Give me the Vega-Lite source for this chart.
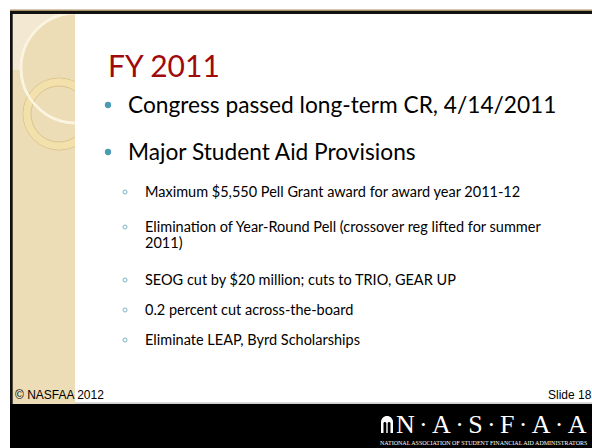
{
  "$schema": "https://vega.github.io/schema/vega-lite/v6.json",
  "width": 592,
  "height": 448,
  "autosize": {"type": "none"},
  "padding": 0,
  "background": "white",
  "config": {"view": {"stroke": null}},
  "datasets": {
    "back": [
      {"part": "panel", "x1": 10, "x2": 75, "y1": 12, "y2": 404},
      {"part": "hatch", "x1": 12, "x2": 75, "y1": 12, "y2": 70}
    ],
    "front": [
      {"part": "cover", "x1": 75, "x2": 592, "y1": 14, "y2": 403},
      {"part": "sep", "x1": 75, "x2": 592, "y1": 402.5, "y2": 403.8},
      {"part": "band", "x1": 10, "x2": 592, "y1": 404, "y2": 448},
      {"part": "tan", "x1": 10, "x2": 592, "y1": 9.5, "y2": 11},
      {"part": "border", "x1": 10, "x2": 592, "y1": 11, "y2": 14},
      {"part": "border", "x1": 10, "x2": 12.7, "y1": 11, "y2": 404}
    ],
    "bigcircle": [{"x": 76, "y": 68}],
    "ring": [{"x": 59, "y": 114}],
    "title": [{"text": "FY 2011", "x": 108, "y": 77}],
    "dots": [{"x": 108, "y": 105}, {"x": 108, "y": 152}],
    "bullets": [
      {"text": "Congress passed long-term CR, 4/14/2011", "x": 128, "y": 113},
      {"text": "Major Student Aid Provisions", "x": 128, "y": 160}
    ],
    "rings": [
      {"x": 125, "y": 192}, {"x": 125, "y": 227}, {"x": 125, "y": 280},
      {"x": 125, "y": 310}, {"x": 125, "y": 340}
    ],
    "subs": [
      {"text": "Maximum $5,550 Pell Grant award for award year 2011-12", "x": 145, "y": 197},
      {"text": "Elimination of Year-Round Pell (crossover reg lifted for summer\n2011)", "x": 145, "y": 232},
      {"text": "SEOG cut by $20 million; cuts to TRIO, GEAR UP", "x": 145, "y": 285},
      {"text": "0.2 percent cut across-the-board", "x": 145, "y": 315},
      {"text": "Eliminate LEAP, Byrd Scholarships", "x": 145, "y": 345}
    ],
    "footer": [
      {"text": "© NASFAA 2012", "x": 15, "y": 399},
      {"text": "Slide 18", "x": 548, "y": 399}
    ],
    "icon": [{"x1": 381, "x2": 393, "y1": 416, "y2": 433}],
    "figures": [
      {"x1": 383.5, "x2": 386.3, "y1": 422, "y2": 433},
      {"x1": 387.7, "x2": 390.5, "y1": 422, "y2": 433}
    ],
    "logo": [{"text": "N\u2006·\u2006A\u2006·\u2006S\u2006·\u2006F\u2006·\u2006A\u2006·\u2006A", "x": 396, "y": 433}],
    "tagline": [{"text": "NATIONAL ASSOCIATION OF STUDENT FINANCIAL AID ADMINISTRATORS", "x": 380, "y": 445}]
  },
  "layer": [
    {
      "data": {"name": "back"},
      "mark": {"type": "rect"},
      "encoding": {
        "x": {"field": "x1", "type": "quantitative", "scale": {"domain": [0, 592], "nice": false, "zero": false}, "axis": null},
        "x2": {"field": "x2"},
        "y": {"field": "y1", "type": "quantitative", "scale": {"domain": [0, 448], "nice": false, "zero": false, "reverse": true}, "axis": null},
        "y2": {"field": "y2"},
        "color": {"field": "part", "type": "nominal", "legend": null,
          "scale": {"domain": ["panel", "hatch", "cover", "sep", "band", "tan", "border"],
                    "range": ["#EDDDB7", "#F3E9D3", "#FFFFFF", "#BDBDBD", "#000000", "#A89366", "#111111"]}}
      }
    },
    {
      "data": {"name": "bigcircle"},
      "mark": {"type": "point", "shape": "circle", "filled": true, "fill": "#EDDDB7", "stroke": "#FBF4E0", "strokeWidth": 2.5, "size": 12100, "opacity": 1},
      "encoding": {
        "x": {"field": "x", "type": "quantitative"},
        "y": {"field": "y", "type": "quantitative"}
      }
    },
    {
      "data": {"name": "ring"},
      "mark": {"type": "point", "shape": "circle", "filled": false, "stroke": "#DCC48E", "strokeWidth": 1, "size": 5184, "opacity": 1},
      "encoding": {
        "x": {"field": "x", "type": "quantitative"},
        "y": {"field": "y", "type": "quantitative"}
      }
    },
    {
      "data": {"name": "ring"},
      "mark": {"type": "point", "shape": "circle", "filled": false, "stroke": "#F3E1AC", "strokeWidth": 7, "size": 4096, "opacity": 1},
      "encoding": {
        "x": {"field": "x", "type": "quantitative"},
        "y": {"field": "y", "type": "quantitative"}
      }
    },
    {
      "data": {"name": "ring"},
      "mark": {"type": "point", "shape": "circle", "filled": false, "stroke": "#DCC48E", "strokeWidth": 1, "size": 3136, "opacity": 1},
      "encoding": {
        "x": {"field": "x", "type": "quantitative"},
        "y": {"field": "y", "type": "quantitative"}
      }
    },
    {
      "data": {"name": "bigcircle"},
      "mark": {"type": "point", "shape": "circle", "filled": false, "stroke": "#FBF4E0", "strokeWidth": 2.5, "size": 12100, "opacity": 1},
      "encoding": {
        "x": {"field": "x", "type": "quantitative"},
        "y": {"field": "y", "type": "quantitative"}
      }
    },
    {
      "data": {"name": "front"},
      "mark": {"type": "rect"},
      "encoding": {
        "x": {"field": "x1", "type": "quantitative"},
        "x2": {"field": "x2"},
        "y": {"field": "y1", "type": "quantitative"},
        "y2": {"field": "y2"},
        "color": {"field": "part", "type": "nominal", "legend": null,
          "scale": {"domain": ["panel", "hatch", "cover", "sep", "band", "tan", "border"],
                    "range": ["#EDDDB7", "#F3E9D3", "#FFFFFF", "#BDBDBD", "#000000", "#A89366", "#111111"]}}
      }
    },
    {
      "data": {"name": "title"},
      "mark": {"type": "text", "align": "left", "baseline": "alphabetic", "font": "Lato", "fontSize": 30, "color": "#A00A0A"},
      "encoding": {
        "x": {"field": "x", "type": "quantitative"},
        "y": {"field": "y", "type": "quantitative"},
        "text": {"field": "text"}
      }
    },
    {
      "data": {"name": "dots"},
      "mark": {"type": "point", "shape": "circle", "filled": true, "color": "#4A9BB3", "size": 40, "opacity": 1},
      "encoding": {
        "x": {"field": "x", "type": "quantitative"},
        "y": {"field": "y", "type": "quantitative"}
      }
    },
    {
      "data": {"name": "bullets"},
      "mark": {"type": "text", "align": "left", "baseline": "alphabetic", "font": "Lato", "fontSize": 22.7, "color": "#000000"},
      "encoding": {
        "x": {"field": "x", "type": "quantitative"},
        "y": {"field": "y", "type": "quantitative"},
        "text": {"field": "text"}
      }
    },
    {
      "data": {"name": "rings"},
      "mark": {"type": "point", "shape": "circle", "filled": false, "stroke": "#7DB3C7", "strokeWidth": 1, "size": 16, "opacity": 1},
      "encoding": {
        "x": {"field": "x", "type": "quantitative"},
        "y": {"field": "y", "type": "quantitative"}
      }
    },
    {
      "data": {"name": "subs"},
      "mark": {"type": "text", "align": "left", "baseline": "alphabetic", "font": "Lato", "fontSize": 14.5, "lineBreak": "\n", "lineHeight": 16, "color": "#000000"},
      "encoding": {
        "x": {"field": "x", "type": "quantitative"},
        "y": {"field": "y", "type": "quantitative"},
        "text": {"field": "text"}
      }
    },
    {
      "data": {"name": "footer"},
      "mark": {"type": "text", "align": "left", "baseline": "alphabetic", "font": "Liberation Sans", "fontSize": 12, "color": "#000000"},
      "encoding": {
        "x": {"field": "x", "type": "quantitative"},
        "y": {"field": "y", "type": "quantitative"},
        "text": {"field": "text"}
      }
    },
    {
      "data": {"name": "icon"},
      "mark": {"type": "rect", "color": "#FFFFFF", "cornerRadiusTopLeft": 6, "cornerRadiusTopRight": 6},
      "encoding": {
        "x": {"field": "x1", "type": "quantitative"},
        "x2": {"field": "x2"},
        "y": {"field": "y1", "type": "quantitative"},
        "y2": {"field": "y2"}
      }
    },
    {
      "data": {"name": "figures"},
      "mark": {"type": "rect", "color": "#000000", "cornerRadiusTopLeft": 1.4, "cornerRadiusTopRight": 1.4},
      "encoding": {
        "x": {"field": "x1", "type": "quantitative"},
        "x2": {"field": "x2"},
        "y": {"field": "y1", "type": "quantitative"},
        "y2": {"field": "y2"}
      }
    },
    {
      "data": {"name": "logo"},
      "mark": {"type": "text", "align": "left", "baseline": "alphabetic", "font": "Liberation Serif", "fontSize": 26, "color": "#FFFFFF"},
      "encoding": {
        "x": {"field": "x", "type": "quantitative"},
        "y": {"field": "y", "type": "quantitative"},
        "text": {"field": "text"}
      }
    },
    {
      "data": {"name": "tagline"},
      "mark": {"type": "text", "align": "left", "baseline": "alphabetic", "font": "Liberation Serif", "fontSize": 6, "color": "#FFFFFF"},
      "encoding": {
        "x": {"field": "x", "type": "quantitative"},
        "y": {"field": "y", "type": "quantitative"},
        "text": {"field": "text"}
      }
    }
  ]
}
